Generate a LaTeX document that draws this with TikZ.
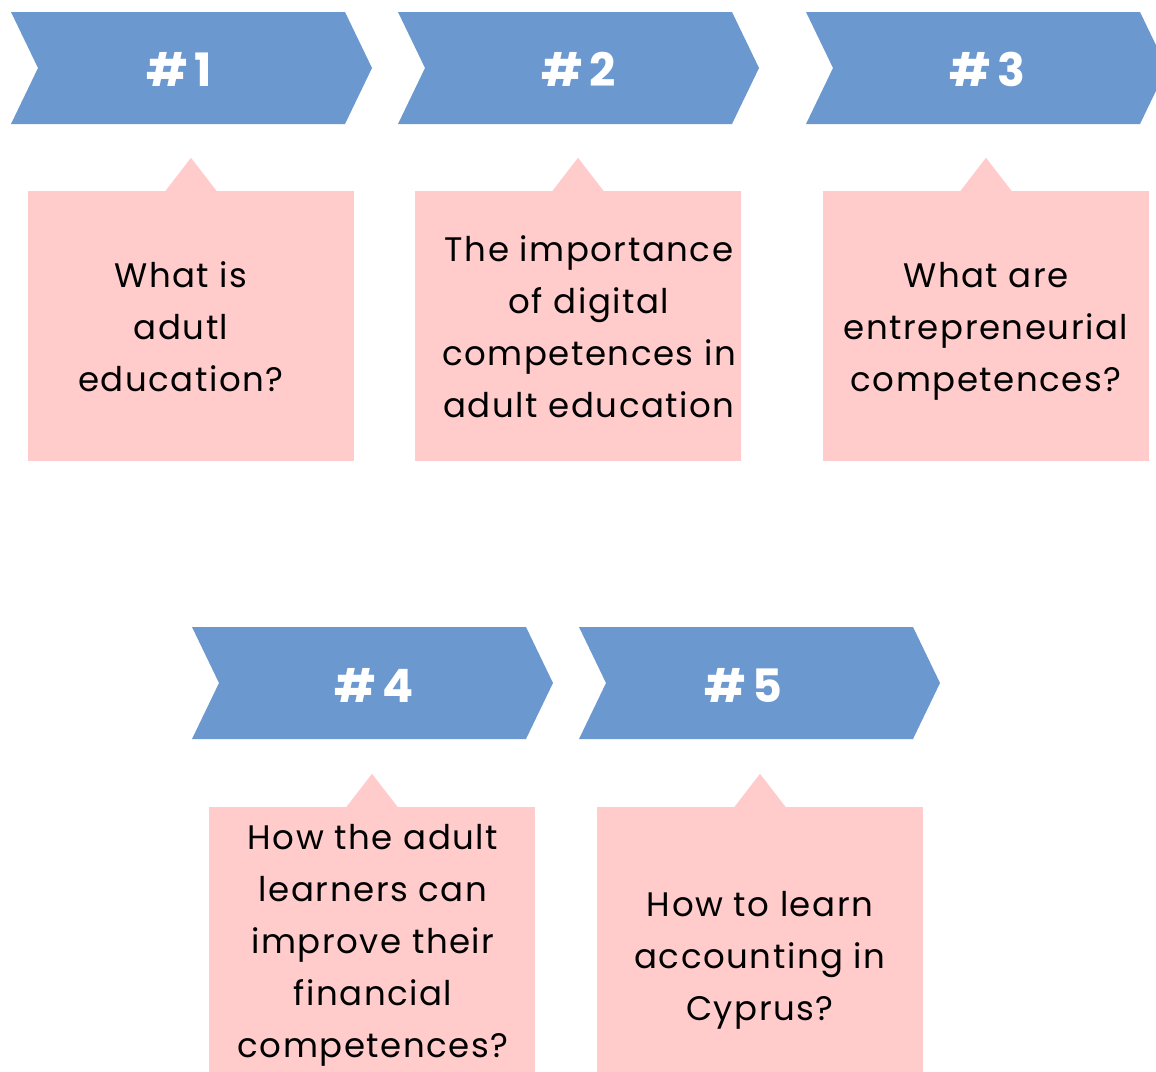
\documentclass[tikz,border=0pt]{standalone}
\usepackage{fontspec}
\setmainfont{Poppins}[LetterSpace=4.5]
\newfontfamily\labfont{Poppins}[LetterSpace=14]
\definecolor{chevblue}{HTML}{6C98D0}
\definecolor{cardpink}{HTML}{FFCBCB}
\begin{document}
\begin{tikzpicture}[x=1pt,y=-1pt,
  chevshape/.pic={\fill[chevblue] (0,0) -- (334,0) -- (361,56) -- (334,112) -- (0,112) -- (27,56) -- cycle;},
  lab/.style={text=white,font=\labfont\fontsize{46}{50}\selectfont\bfseries,inner sep=0},
  cardbox/.style={fill=cardpink,draw=none,inner sep=0,minimum width=326pt,minimum height=270pt},
  cardtip/.style={fill=cardpink},
  cardtext/.style={align=center,inner sep=0,font=\fontsize{34}{52}\selectfont,text=black}]
\clip (0,0) rectangle (1156,1071);
\useasboundingbox (0,0) rectangle (1156,1071);
% chevrons
\pic at (11,12) {chevshape};
\pic at (398,12) {chevshape};
\pic at (806,12) {chevshape};
\pic at (192,627) {chevshape};
\pic at (579,627) {chevshape};
\node[lab] (l1) at (179,69) {\#1};
\node[lab] (l2) at (579,69) {\#2};
\node[lab] (l3) at (987,69) {\#3};
\node[lab] (l4) at (374,685) {\#4};
\node[lab] (l5) at (743,685) {\#5};
% cards
\node[cardbox] (c1) at (191,326) {};
\node[cardbox] (c2) at (578,326) {};
\node[cardbox] (c3) at (986,326) {};
\node[cardbox] (c4) at (372,942) {};
\node[cardbox] (c5) at (760,942) {};
\foreach \c in {c1,c2,c3,c4,c5}{
  \fill[cardtip] ([xshift=-25.5pt]\c.north) -- ([yshift=33pt]\c.north) -- ([xshift=25.5pt]\c.north) -- cycle;
}
\node[cardtext] (t1) at (181,327) {What is\\adutl\\education?};
\node[cardtext] (t2) at (589,327) {The importance\\of digital\\competences in\\adult education};
\node[cardtext] (t3) at (986,331) {What are\\entrepreneurial\\competences?};
\node[cardtext] (t4) at (373,945) {How the adult\\learners can\\improve their\\financial\\competences?};
\node[cardtext] (t5) at (760,960) {How to learn\\accounting in\\Cyprus?};
\end{tikzpicture}
\end{document}
